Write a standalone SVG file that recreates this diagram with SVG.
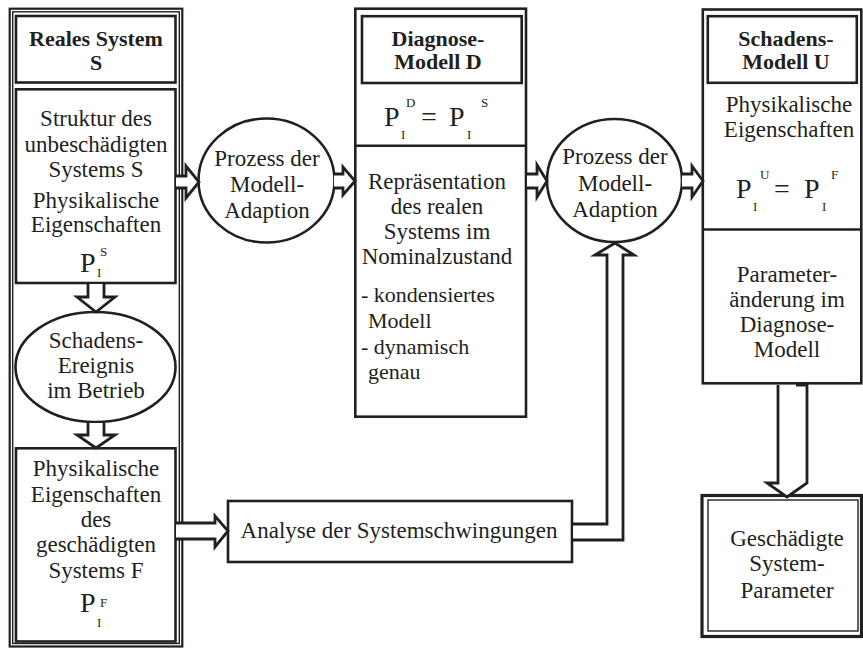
<svg xmlns="http://www.w3.org/2000/svg" width="863" height="648" viewBox="0 0 863 648">
<style>
text{font-family:"Liberation Serif","Times New Roman",serif;fill:#231f20;font-size:23px;text-anchor:middle}
.b{font-weight:bold;font-size:22px}
.l{font-size:22px;text-anchor:start}
.s{font-size:13px;text-anchor:start}
.p{font-size:28px;text-anchor:start}
.box{fill:#fff;stroke:#231f20;stroke-width:2.6}
.thin{fill:none;stroke:#231f20;stroke-width:1.4}
.ell{fill:#fff;stroke:#231f20;stroke-width:2.6}
.arr{fill:#fff;stroke:#231f20;stroke-width:2.8;stroke-linejoin:miter}
</style>
<rect width="863" height="648" fill="#fff"/>

<g id="reales-system">
<rect x="9.7" y="8.7" width="172.6" height="637.8" fill="#fff" stroke="#231f20" stroke-width="2.2"/>
<rect x="12.7" y="11.8" width="166.6" height="631.7" class="thin"/>
<rect x="16" y="16" width="159.5" height="66.5" class="box"/>
<text class="b" x="96" y="46">Reales System</text>
<text class="b" x="96" y="70">S</text>
</g>

<g id="struktur">
<rect x="16" y="89.3" width="159.5" height="193.7" class="box"/>
<text x="96" y="126">Struktur des</text>
<text x="96" y="152">unbeschädigten</text>
<text x="96" y="177">Systems S</text>
<text x="96" y="208">Physikalische</text>
<text x="96" y="232">Eigenschaften</text>
<text class="p" x="80" y="272">P</text>
<text class="s" x="97" y="277">I</text>
<text class="s" x="100" y="256">S</text>
</g>

<g id="schadensereignis">
<ellipse cx="95.5" cy="367" rx="80" ry="55" class="ell"/>
<text x="96" y="348">Schadens-</text>
<text x="96" y="373">Ereignis</text>
<text x="96" y="398">im Betrieb</text>
</g>

<g id="geschaedigt">
<rect x="16" y="448.3" width="159.5" height="193.2" class="box"/>
<text x="96" y="476">Physikalische</text>
<text x="96" y="502">Eigenschaften</text>
<text x="96" y="527">des</text>
<text x="96" y="552">geschädigten</text>
<text x="96" y="578">Systems F</text>
<text class="p" x="80" y="612">P</text>
<text class="s" x="97" y="627">I</text>
<text class="s" x="100" y="607">F</text>
</g>

<g id="adaption1">
<ellipse cx="266.5" cy="180.5" rx="68" ry="62" class="ell"/>
<text x="267" y="166">Prozess der</text>
<text x="267" y="192">Modell-</text>
<text x="267" y="218">Adaption</text>
</g>

<g id="diagnose-modell">
<rect x="355.3" y="8.7" width="170.7" height="408" class="box"/>
<rect x="362" y="16.2" width="159.7" height="66.8" class="box"/>
<line x1="355.3" y1="145.7" x2="526" y2="145.7" stroke="#231f20" stroke-width="2.6"/>
<text class="b" x="438" y="46">Diagnose-</text>
<text class="b" x="438" y="69">Modell D</text>
<text class="p" x="384" y="126">P</text>
<text class="s" x="401" y="139">I</text>
<text class="s" x="406" y="107">D</text>
<text class="p" x="421" y="126">=</text>
<text class="p" x="449" y="126">P</text>
<text class="s" x="467" y="139">I</text>
<text class="s" x="481" y="107">S</text>
<text x="437" y="189">Repräsentation</text>
<text x="437" y="214">des realen</text>
<text x="437" y="239">Systems im</text>
<text x="437" y="264">Nominalzustand</text>
<text class="l" x="361" y="302">- kondensiertes</text>
<text class="l" x="368" y="328">Modell</text>
<text class="l" x="361" y="354">- dynamisch</text>
<text class="l" x="368" y="379">genau</text>
</g>

<g id="adaption2">
<ellipse cx="614.5" cy="180.5" rx="67.5" ry="61.5" class="ell"/>
<text x="615" y="164">Prozess der</text>
<text x="615" y="190.5">Modell-</text>
<text x="615" y="217">Adaption</text>
</g>

<g id="schadens-modell">
<rect x="702.8" y="9.5" width="158.5" height="373.8" class="box"/>
<rect x="707.8" y="16.2" width="149" height="66.6" class="box"/>
<line x1="702.8" y1="229.5" x2="861.3" y2="229.5" stroke="#231f20" stroke-width="2.6"/>
<text class="b" x="786" y="46">Schadens-</text>
<text class="b" x="786" y="69">Modell U</text>
<text x="789" y="112">Physikalische</text>
<text x="789" y="137">Eigenschaften</text>
<text class="p" x="736" y="198">P</text>
<text class="s" x="753" y="211">I</text>
<text class="s" x="760" y="179">U</text>
<text class="p" x="774" y="198">=</text>
<text class="p" x="804" y="198">P</text>
<text class="s" x="822" y="211">I</text>
<text class="s" x="831" y="179">F</text>
<text x="787" y="282">Parameter-</text>
<text x="787" y="307">änderung im</text>
<text x="787" y="332">Diagnose-</text>
<text x="787" y="357">Modell</text>
</g>

<g id="geschaedigte-parameter">
<rect x="702" y="495.5" width="159.5" height="141" fill="#fff" stroke="#231f20" stroke-width="3.2"/>
<rect x="708" y="500" width="150" height="131" class="thin" stroke-width="2"/>
<text x="787" y="546">Geschädigte</text>
<text x="787" y="571">System-</text>
<text x="787" y="598">Parameter</text>
</g>

<g id="analyse">
<rect x="228" y="501" width="344" height="61" class="box"/>
<text x="399" y="538">Analyse der Systemschwingungen</text>
</g>

<g id="connectors">
<path class="arr" d="M88,284 V297 H77 L96,312 L115,297 H104 V284"/>
<path class="arr" d="M88,423 V435 H77 L96,448 L115,435 H104 V423"/>
<path class="arr" d="M176,176 H186 V166 L199,182 L186,198 V188 H176"/>
<path class="arr" d="M334,174 H343 V167 L355,181 L343,195 V188 H334"/>
<path class="arr" d="M527,174 H537 V165 L547,181 L537,197 V188 H527"/>
<path class="arr" d="M682,174 H692 V166 L703,181 L692,197 V188 H682"/>
<path class="arr" d="M176,523 H215 V516 L228,531 L215,547 V539 H176"/>
<path class="arr" d="M573,524 H607 V255 H595 L615,243 L634,255 H623 V540 H573"/>
<path class="arr" d="M778,385 V483 H767 L787,497 L807,483 V385 H796"/>
</g>
</svg>
